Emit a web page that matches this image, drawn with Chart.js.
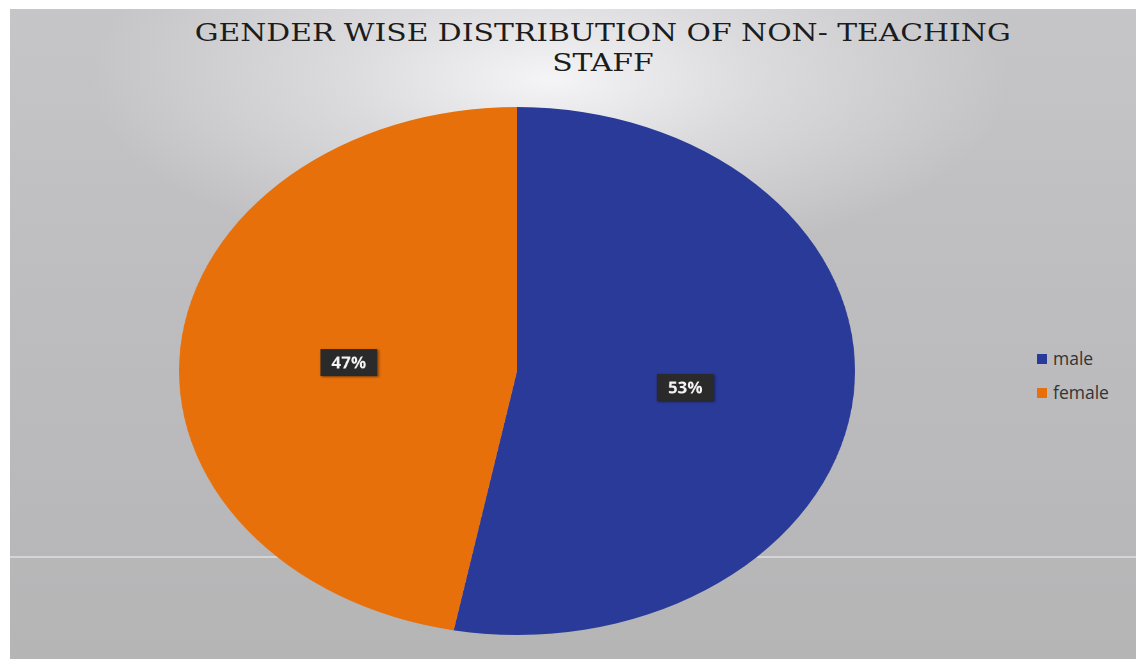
<!DOCTYPE html>
<html>
<head>
<meta charset="utf-8">
<script src="https://cdn.jsdelivr.net/npm/chart.js@4.4.1/dist/chart.umd.min.js"></script>
<style>
  html, body { margin: 0; padding: 0; background: #fff; }
  body { width: 1136px; height: 659px; position: relative; overflow: hidden; }
  #panel {
    position: absolute; left: 10px; top: 9px; right: 0; bottom: 0;
    background:
      radial-gradient(ellipse 460px 190px at 540px 70px, rgba(250,250,252,0.9) 0%, rgba(238,238,240,0.55) 45%, rgba(220,220,222,0) 100%),
      linear-gradient(180deg, #c6c6c9 0%, #bebec1 40%, #b8b8ba 80%, #b5b5b5 100%);
  }
  #rule {
    position: absolute; left: 10px; right: 0; top: 556px; height: 2px;
    background: rgba(225,225,228,0.7);
  }
  #title {
    position: absolute; left: 70px; right: 0; top: 18px;
    text-align: center; font-family: "DejaVu Serif", serif;
    font-size: 24px; line-height: 30px; color: #1c1c1c;
  }
  #title span { display: inline-block; transform-origin: 50% 50%; white-space: nowrap; }
  #pieWrap {
    position: absolute; left: 253px; top: 107px; width: 528px; height: 528px;
    transform: scaleX(1.2803); transform-origin: 50% 50%;
  }
  #legend {
    position: absolute; left: 1037px; top: 344px;
    font-family: "Open Sans", "DejaVu Sans", sans-serif; font-size: 17.5px; color: #333;
  }
  #legend div { height: 34px; line-height: 28px; white-space: nowrap; }
  #legend span.box { display: inline-block; width: 10px; height: 10px; margin-right: 6px; vertical-align: 1px; }
</style>
</head>
<body>
<div id="panel"></div>
<div id="rule"></div>
<div id="title"><span id="t1">GENDER WISE DISTRIBUTION OF NON- TEACHING</span><br><span id="t2">STAFF</span></div>
<div id="pieWrap"><canvas id="chart"></canvas></div>
<div id="legend"></div>
<script>
// data
const categories = ['male', 'female'];
const shares = [53, 47];
const sliceColors = ['#2a3a98', '#e8700b'];

const stretchX = 1.2803;

// widen the title to the reference width (Palatino-like face not installed)
const titleScale = 816 / document.getElementById('t1').getBoundingClientRect().width;
document.getElementById('t1').style.transform = 'scaleX(' + titleScale + ')';
document.getElementById('t2').style.transform = 'scaleX(' + titleScale + ')';

// legend built from the same arrays
const legend = document.getElementById('legend');
categories.forEach(function (name, i) {
    const row = document.createElement('div');
    row.innerHTML = '<span class="box" style="background:' + sliceColors[i] + '"></span>' + name;
    legend.appendChild(row);
});

// percentage boxes, drawn un-stretched on top of the stretched canvas
const boxLabels = {
    id: 'boxLabels',
    afterDatasetsDraw(chart) {
        const ctx = chart.ctx;
        const meta = chart.getDatasetMeta(0);
        const total = shares.reduce((a, b) => a + b, 0);
        meta.data.forEach(function (arc, i) {
            const mid = (arc.startAngle + arc.endAngle) / 2;
            const r = arc.outerRadius * 0.5;
            const x = arc.x + Math.cos(mid) * r;
            const y = arc.y + Math.sin(mid) * r + 4;
            const text = Math.round(shares[i] / total * 100) + '%';
            ctx.save();
            ctx.translate(x, y);
            ctx.scale(1 / stretchX, 1);
            ctx.font = 'bold 17px "Open Sans", "DejaVu Sans", sans-serif';
            const w = ctx.measureText(text).width + 22;
            const h = 27;
            ctx.shadowColor = 'rgba(0,0,0,0.45)';
            ctx.shadowBlur = 4;
            ctx.shadowOffsetX = 2;
            ctx.shadowOffsetY = 2;
            ctx.fillStyle = '#2a2a2a';
            ctx.fillRect(-w / 2, -h / 2, w, h);
            ctx.shadowColor = 'transparent';
            ctx.fillStyle = '#f4f4f4';
            ctx.textAlign = 'center';
            ctx.textBaseline = 'middle';
            ctx.fillText(text, 0, 1);
            ctx.restore();
        });
    }
};

new Chart(document.getElementById('chart'), {
    type: 'pie',
    data: {
        labels: categories,
        datasets: [{
            data: shares,
            backgroundColor: sliceColors,
            borderWidth: 0,
        }],
    },
    options: {
        responsive: true,
        maintainAspectRatio: false,
        devicePixelRatio: 2,
        animation: false,
        layout: { padding: 0 },
        plugins: {
            legend: { display: false },
            title: { display: false },
            tooltip: { enabled: false },
        },
    },
    plugins: [boxLabels],
});
</script>
</body>
</html>
